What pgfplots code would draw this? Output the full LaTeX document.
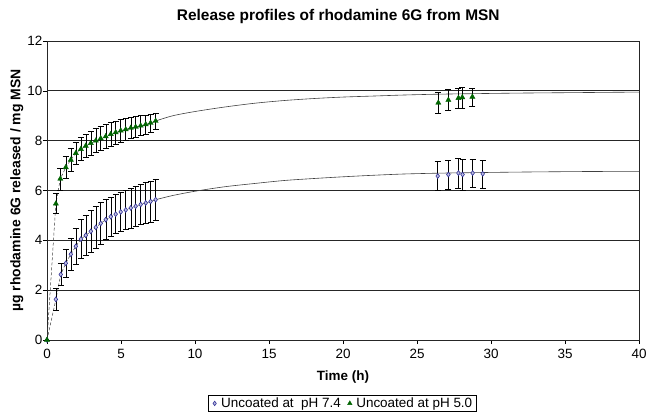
\documentclass[border=0pt]{standalone}
\usepackage{fontspec}
\setmainfont{Liberation Sans}
\usepackage{pgfplots}
\pgfplotsset{compat=1.18}
\usepackage{pgfplotstable}
\definecolor{bluec}{RGB}{45,45,150}
\definecolor{greenc}{RGB}{0,100,0}

\pgfplotstableread{
t y e
0 0 0
0.60 1.63 0.45
0.93 2.63 0.45
1.27 3.08 0.55
1.61 3.44 0.65
1.95 3.76 0.72
2.29 4.05 0.78
2.62 4.20 0.80
2.96 4.36 0.85
3.30 4.52 0.85
3.63 4.68 0.83
3.97 4.83 0.80
4.31 4.95 0.78
4.64 5.05 0.78
4.98 5.14 0.78
5.32 5.22 0.78
5.66 5.30 0.80
5.99 5.37 0.80
6.33 5.44 0.80
6.67 5.50 0.82
7.00 5.56 0.82
7.34 5.63 0.84
26.40 6.58 0.58
27.12 6.64 0.58
27.80 6.70 0.60
28.08 6.64 0.62
28.76 6.70 0.56
29.44 6.67 0.56
}\bluedata

\pgfplotstableread{
t y e
0 0 0
0.60 5.47 0.40
0.90 6.47 0.44
1.27 6.93 0.44
1.61 7.23 0.45
1.95 7.50 0.45
2.29 7.66 0.46
2.62 7.79 0.47
2.96 7.90 0.48
3.30 8.00 0.48
3.63 8.09 0.48
3.97 8.17 0.48
4.31 8.26 0.48
4.64 8.33 0.46
4.98 8.40 0.45
5.32 8.45 0.44
5.66 8.51 0.42
5.99 8.55 0.41
6.33 8.60 0.40
6.67 8.65 0.38
7.00 8.71 0.36
7.34 8.79 0.33
26.44 9.52 0.43
27.12 9.63 0.42
27.80 9.71 0.41
28.06 9.74 0.42
28.74 9.76 0.36
}\greendata

\begin{document}
\begin{tikzpicture}
\path[use as bounding box] (-47bp,-73bp) rectangle (600bp,340bp);
\begin{axis}[
  scale only axis, width=592bp, height=299bp,
  xmin=0, xmax=40, ymin=0, ymax=12,
  xtick={0,5,...,40}, ytick={0,2,...,12},
  tick align=outside, tick pos=left, major tick length=4bp,
  ymajorgrids,
  major grid style={black!85, line width=0.7pt},
  axis line style={black!85, line width=0.7pt},
  every tick/.style={black, line width=0.6pt},
  /pgf/number format/assume math mode=true,
  tick label style={font=\fontsize{13.5}{15}\selectfont},
  xticklabel style={yshift=-2bp},
  yticklabel style={inner xsep=0.5bp},
  title={Release profiles of rhodamine 6G from MSN},
  title style={font=\fontsize{15.5}{17}\selectfont\bfseries, at={(axis description cs:0.492,1.062)}, anchor=center},
  xlabel={Time (h)},
  xlabel style={font=\fontsize{13.5}{15}\selectfont\bfseries, at={(axis description cs:0.5,-0.124)}, anchor=center},
  ylabel={µg rhodamine 6G released / mg MSN},
  ylabel style={font=\fontsize{14}{16}\selectfont\bfseries, at={(axis description cs:-0.051,0.5)}, anchor=center},
  legend columns=2,
  legend style={at={(axis description cs:0.4991,-0.212)}, anchor=center, draw=black, line width=0.6pt,
    font=\fontsize{13.5}{15}\selectfont, inner xsep=2bp, inner ysep=0.5bp,
    /tikz/every even column/.style={column sep=3bp}},
  legend image code/.code={\path[draw=none] (0cm,0cm) -- (0.3cm,0cm); \draw[#1] plot coordinates {(0.14cm,0cm)};},
]
% dashed early connections
\addplot[forget plot, black!75, line width=0.5pt, dash pattern=on 3pt off 2pt, restrict x to domain=0:8] table[x=t,y=y]{\bluedata};
\addplot[forget plot, black!75, line width=0.5pt, dash pattern=on 3pt off 2pt, restrict x to domain=0:8] table[x=t,y=y]{\greendata};
% fitted curves
\addplot[forget plot, black!75, line width=0.6pt, smooth] coordinates {
(7.34,5.63) (8.5,5.80) (10,5.97) (12,6.15) (14,6.28) (16,6.40) (18,6.48) (20,6.55) (22,6.61) (24,6.66) (26,6.69) (28,6.71) (32,6.74) (36,6.76) (40,6.77)};
\addplot[forget plot, black!75, line width=0.6pt, smooth] coordinates {
(7.34,8.79) (8.5,9.00) (10,9.17) (12,9.35) (14,9.50) (16,9.61) (18,9.69) (20,9.75) (22,9.79) (24,9.83) (26,9.86) (28,9.88) (32,9.91) (36,9.93) (40,9.95)};
% data
\addplot[forget plot, only marks, mark=diamond*, mark size=2.4bp,
  mark options={draw=bluec, fill=bluec!30, line width=0.6pt},
  error bars/.cd, y dir=both, y explicit, error mark=|,
  error bar style={black, line width=0.5pt},
  error mark options={black, mark size=3bp, line width=0.5pt}]
  table[x=t, y=y, y error=e]{\bluedata};
\addplot[forget plot, only marks, mark=triangle*, mark size=3bp,
  mark options={draw=greenc, fill=greenc, line width=0.4pt},
  error bars/.cd, y dir=both, y explicit, error mark=|,
  error bar style={black, line width=0.5pt},
  error mark options={black, mark size=3bp, line width=0.5pt}]
  table[x=t, y=y, y error=e]{\greendata};
\addlegendimage{only marks, mark=diamond*, mark size=2.2bp, mark options={draw=bluec, fill=bluec!30, line width=0.6pt}}
\addlegendentry{Uncoated at~ pH 7.4}
\addlegendimage{only marks, mark=triangle*, mark size=2.6bp, mark options={draw=greenc, fill=greenc, line width=0.4pt}}
\addlegendentry{Uncoated at pH 5.0}
\end{axis}
\end{tikzpicture}
\end{document}
